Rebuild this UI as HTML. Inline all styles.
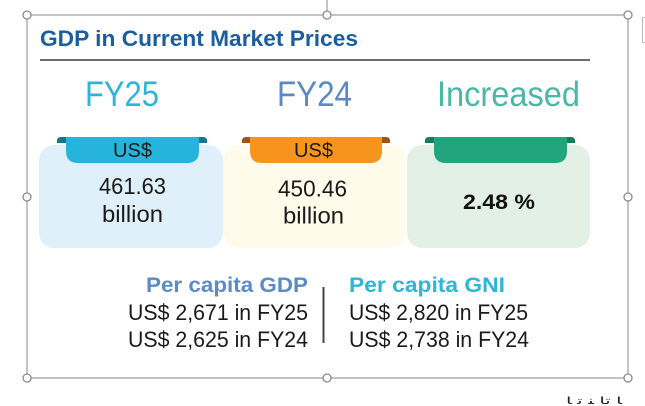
<!DOCTYPE html>
<html><head><meta charset="utf-8"><style>
html,body{margin:0;padding:0;background:#fff;}
svg{display:block;}
text{font-family:"Liberation Sans","DejaVu Sans",sans-serif;}
</style></head><body>
<svg width="645" height="406" viewBox="0 0 645 406" xmlns="http://www.w3.org/2000/svg">
<rect width="645" height="406" fill="#fff"/>
<!-- frame -->
<line x1="327" y1="0" x2="327" y2="11" stroke="#8a8a8a" stroke-width="1"/>
<rect x="27" y="15" width="601" height="363" fill="none" stroke="#8a8a8a" stroke-width="1"/>
<path d="M645 17.5 H642.5 V42.5 H645" fill="none" stroke="#bbb" stroke-width="1"/>
<!-- title -->
<text x="40" y="46" font-size="22" font-weight="bold" fill="#1b5e9f" textLength="318" lengthAdjust="spacingAndGlyphs">GDP in Current Market Prices</text>
<line x1="40" y1="60" x2="590" y2="60" stroke="#3c3c3c" stroke-width="1.5"/>
<!-- headers -->
<text x="85" y="106" font-size="35" fill="#2fb3d8" textLength="74" lengthAdjust="spacingAndGlyphs">FY25</text>
<text x="277" y="106" font-size="35" fill="#5b89c4" textLength="75" lengthAdjust="spacingAndGlyphs">FY24</text>
<text x="437" y="106" font-size="35" fill="#4bb7a6" textLength="143" lengthAdjust="spacingAndGlyphs">Increased</text>
<!-- boxes -->
<rect x="39" y="145" width="184" height="103" rx="15" fill="#dff0fb"/>
<rect x="224" y="145" width="181" height="103" rx="15" fill="#fffbea"/>
<rect x="407" y="145" width="183" height="103" rx="15" fill="#e2f0e6"/>
<!-- tab 1 -->
<path d="M57 143 V141 Q57 137 61 137 H203 Q207 137 207 141 V143 Z" fill="#1b7486"/>
<path d="M66 137 H199 V151 Q199 163 187 163 H78 Q66 163 66 151 Z" fill="#27b4dc"/>
<!-- tab 2 -->
<path d="M242 143 V141 Q242 137 246 137 H386 Q390 137 390 141 V143 Z" fill="#9e5418"/>
<path d="M250 137 H382 V151 Q382 163 370 163 H262 Q250 163 250 151 Z" fill="#f7941e"/>
<!-- tab 3 -->
<path d="M425 143 V141 Q425 137 429 137 H571 Q575 137 575 141 V143 Z" fill="#1a7a5c"/>
<path d="M434 137 H567 V151 Q567 163 555 163 H446 Q434 163 434 151 Z" fill="#22a57d"/>
<!-- box text -->
<text x="113" y="157" font-size="20" fill="#1a1a1a" textLength="39" lengthAdjust="spacingAndGlyphs">US$</text>
<text x="294" y="157" font-size="20" fill="#1a1a1a" textLength="39" lengthAdjust="spacingAndGlyphs">US$</text>
<text x="99" y="194" font-size="23" fill="#1a1a1a" textLength="67" lengthAdjust="spacingAndGlyphs">461.63</text>
<text x="102" y="222" font-size="23" fill="#1a1a1a" textLength="61" lengthAdjust="spacingAndGlyphs">billion</text>
<text x="278" y="196.5" font-size="23" fill="#1a1a1a" textLength="69" lengthAdjust="spacingAndGlyphs">450.46</text>
<text x="283" y="223.5" font-size="23" fill="#1a1a1a" textLength="61" lengthAdjust="spacingAndGlyphs">billion</text>
<text x="463" y="209" font-size="21" font-weight="bold" fill="#111" textLength="72" lengthAdjust="spacingAndGlyphs">2.48 %</text>
<!-- per capita -->
<text x="146" y="292" font-size="21" font-weight="bold" fill="#5c8bc6" textLength="162" lengthAdjust="spacingAndGlyphs">Per capita GDP</text>
<text x="128" y="320" font-size="22" fill="#1a1a1a" textLength="180" lengthAdjust="spacingAndGlyphs">US$ 2,671 in FY25</text>
<text x="128" y="347" font-size="22" fill="#1a1a1a" textLength="180" lengthAdjust="spacingAndGlyphs">US$ 2,625 in FY24</text>
<line x1="323.5" y1="287" x2="323.5" y2="343" stroke="#444" stroke-width="2"/>
<text x="349" y="292" font-size="21" font-weight="bold" fill="#2fb5d6" textLength="156" lengthAdjust="spacingAndGlyphs">Per capita GNI</text>
<text x="349" y="320" font-size="22" fill="#1a1a1a" textLength="179" lengthAdjust="spacingAndGlyphs">US$ 2,820 in FY25</text>
<text x="349" y="347" font-size="22" fill="#1a1a1a" textLength="180" lengthAdjust="spacingAndGlyphs">US$ 2,738 in FY24</text>
<!-- handles -->
<g fill="#fff" stroke="#8a8a8a" stroke-width="1.3">
<circle cx="27" cy="15" r="4"/>
<circle cx="327" cy="15" r="4"/>
<circle cx="628" cy="15" r="4"/>
<circle cx="27" cy="197" r="4"/>
<circle cx="628" cy="197" r="4"/>
<circle cx="27" cy="378" r="4"/>
<circle cx="327" cy="378" r="4"/>
<circle cx="628" cy="378" r="4"/>
</g>
<text x="566" y="404" font-size="10" fill="#222" textLength="56" lengthAdjust="spacingAndGlyphs">ﺎ ﺗﺎ ﻨ ﺗ ﺎ</text>
</svg>
</body></html>
